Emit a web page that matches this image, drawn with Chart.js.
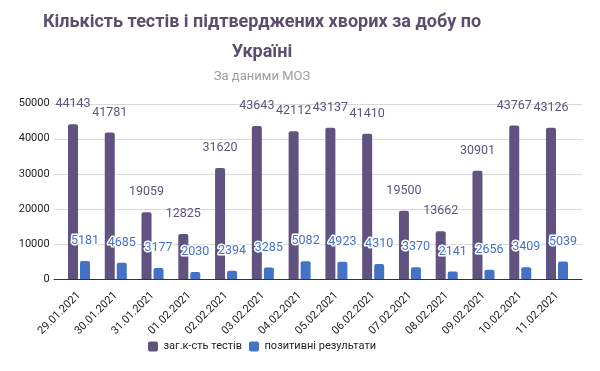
<!DOCTYPE html>
<html>
<head>
<meta charset="utf-8">
<script src="https://cdn.jsdelivr.net/npm/chart.js@4.4.1/dist/chart.umd.min.js"></script>
<style>
  html, body { margin: 0; padding: 0; background: #fff; }
  #wrap { width: 600px; height: 371px; }
</style>
</head>
<body>
<div id="wrap"><canvas id="chart"></canvas></div>
<script>
// chart data
const dates = ["29.01.2021", "30.01.2021", "31.01.2021", "01.02.2021", "02.02.2021", "03.02.2021", "04.02.2021",
  "05.02.2021", "06.02.2021", "07.02.2021", "08.02.2021", "09.02.2021", "10.02.2021", "11.02.2021"];
const totalTests = [44143, 41781, 19059, 12825, 31620, 43643, 42112, 43137, 41410, 19500, 13662, 30901, 43767, 43126];
const positive = [5181, 4685, 3177, 2030, 2394, 3285, 5082, 4923, 4310, 3370, 2141, 2656, 3409, 5039];
const yTicks = [0, 10000, 20000, 30000, 40000, 50000];

const purple = "#615380";
const blue = "#4472c4";
const font = "Roboto";
const titleCenter = 262; // the original centres title and legend left of the middle

// shift title/legend, and gridlines a bit wider than the plot
const gridPlugin = {
  id: "wideGrid",
  afterLayout(chart) {
    chart.boxes.forEach((b) => {
      if (!(b instanceof Chart.Scale) && (b.position === "top" || b.position === "bottom")) {
        const half = (b.right - b.left) / 2;
        b.left = titleCenter - half;
        b.right = titleCenter + half;
      }
    });
  },
  beforeDatasetsDraw(chart) {
    const { ctx, chartArea, scales } = chart;
    ctx.save();
    yTicks.forEach((v) => {
      const y = Math.round(scales.y.getPixelForValue(v)) + 0.5;
      ctx.strokeStyle = v === 0 ? "#333333" : "#d9d9d9";
      ctx.lineWidth = 1;
      ctx.beginPath();
      ctx.moveTo(chartArea.left - 7, y);
      ctx.lineTo(chartArea.right + 7, y);
      ctx.stroke();
    });
    ctx.restore();
  }
};

// value labels above bars
const labelPlugin = {
  id: "barLabels",
  afterDatasetsDraw(chart) {
    const { ctx } = chart;
    ctx.save();
    ctx.font = "12.5px " + font;
    ctx.textAlign = "center";
    ctx.textBaseline = "middle";
    chart.data.datasets.forEach((ds, i) => {
      const meta = chart.getDatasetMeta(i);
      meta.data.forEach((bar, j) => {
        const text = String(ds.data[j]);
        const y = bar.y - 20;
        if (i === 1) {
          ctx.strokeStyle = "#ffffff";
          ctx.lineWidth = 3;
          ctx.lineJoin = "round";
          ctx.strokeText(text, bar.x, y);
        }
        ctx.fillStyle = ds.backgroundColor;
        ctx.fillText(text, bar.x, y);
      });
    });
    ctx.restore();
  }
};

new Chart(document.getElementById("chart"), {
  type: "bar",
  data: {
    labels: dates,
    datasets: [
      {
        label: "заг.к-сть тестів",
        data: totalTests,
        backgroundColor: purple,
        borderRadius: 2,
        borderSkipped: "bottom",
        categoryPercentage: 0.653,
        barPercentage: 0.833
      },
      {
        label: "позитивні результати",
        data: positive,
        backgroundColor: blue,
        borderRadius: 2,
        borderSkipped: "bottom",
        categoryPercentage: 0.653,
        barPercentage: 0.833
      }
    ]
  },
  options: {
    responsive: true,
    maintainAspectRatio: false,
    animation: false,
    layout: { padding: { left: 7.7, right: 24.6, bottom: 9 } },
    scales: {
      x: {
        grid: { display: false },
        border: { display: false },
        ticks: {
          color: "#222222",
          font: { family: font, size: 11 },
          minRotation: 45,
          maxRotation: 45,
          padding: 2
        },
        afterFit(scale) {
          scale.paddingLeft = 0;
          scale.height -= 5.5;
        }
      },
      y: {
        min: 0,
        max: 50000,
        grid: { display: false, drawTicks: false },
        border: { display: false },
        afterBuildTicks(scale) {
          scale.ticks = yTicks.map((v) => ({ value: v }));
        },
        ticks: {
          color: "#222222",
          font: { family: font, size: 11 },
          padding: 11,
          callback: (v) => String(v)
        }
      }
    },
    plugins: {
      title: {
        display: true,
        text: ["Кількість тестів і підтверджених хворих за добу по", "Україні"],
        color: "#5b4e6e",
        font: { family: font, size: 18, weight: "bold", lineHeight: 1.65 },
        padding: { top: 8, bottom: 0 }
      },
      subtitle: {
        display: true,
        text: "За даними МОЗ",
        color: "#9e9e9e",
        font: { family: font, size: 13 },
        padding: { top: 2, bottom: 18.6 }
      },
      legend: {
        position: "bottom",
        labels: {
          color: "#222222",
          font: { family: font, size: 11 },
          boxWidth: 10,
          boxHeight: 10,
          useBorderRadius: true,
          borderRadius: 2,
          padding: 7
        }
      },
      tooltip: { enabled: false }
    }
  },
  plugins: [gridPlugin, labelPlugin]
});
</script>
</body>
</html>
